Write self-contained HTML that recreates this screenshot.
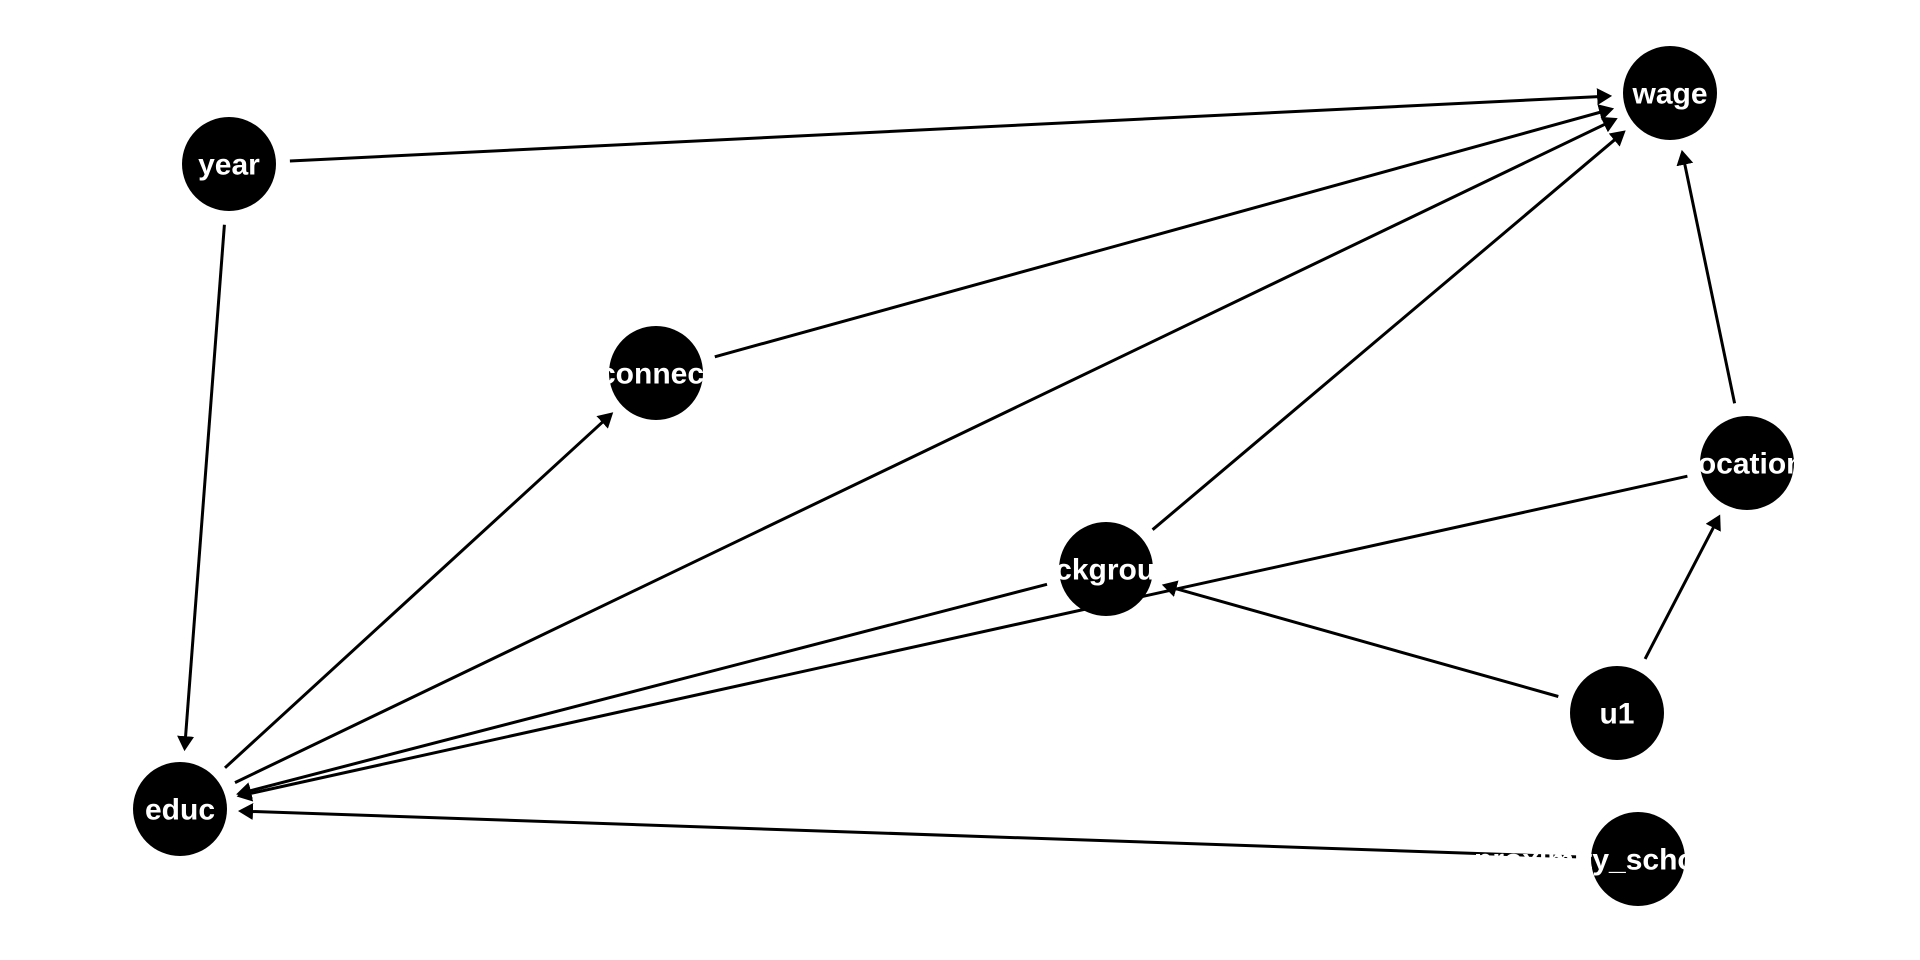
<!DOCTYPE html>
<html>
<head>
<meta charset="utf-8">
<style>
  html, body { margin: 0; padding: 0; background: #ffffff; }
  svg { display: block; }
  text { font-family: "Liberation Sans", Arial, sans-serif; font-weight: bold; font-size: 30px; fill: #ffffff; }
</style>
</head>
<body>
<svg width="1920" height="960" viewBox="0 0 1920 960" xmlns="http://www.w3.org/2000/svg">
  <defs>
    <marker id="ah" markerWidth="17" markerHeight="19" refX="9" refY="8.5" orient="auto" markerUnits="userSpaceOnUse">
      <path d="M0,0 L15,8.5 L0,17 Z" fill="#000"/>
    </marker>
  </defs>
  <rect width="1920" height="960" fill="#fff"/>
  <g stroke="#000" stroke-width="3" fill="none" marker-end="url(#ah)">
    <line x1="289.9" y1="161.0" x2="1606.1" y2="96.2"/>
    <line x1="714.8" y1="356.8" x2="1608.3" y2="110.0"/>
    <line x1="235.0" y1="782.6" x2="1612.3" y2="120.7"/>
    <line x1="1152.6" y1="529.7" x2="1621.1" y2="134.3"/>
    <line x1="1734.6" y1="403.3" x2="1683.0" y2="155.7"/>
    <line x1="224.4" y1="224.8" x2="184.9" y2="745.2"/>
    <line x1="225.0" y1="767.8" x2="608.8" y2="416.3"/>
    <line x1="1047.0" y1="584.3" x2="241.9" y2="792.9"/>
    <line x1="1687.4" y1="476.2" x2="242.5" y2="795.2"/>
    <line x1="1558.3" y1="696.5" x2="1167.6" y2="586.3"/>
    <line x1="1645.1" y1="658.9" x2="1717.4" y2="519.8"/>
    <line x1="1577.0" y1="856.9" x2="244.0" y2="811.2"/>
  </g>
  <g fill="#000">
    <circle cx="1670" cy="93" r="47"/>
    <circle cx="229" cy="164" r="47"/>
    <circle cx="656" cy="373" r="47"/>
    <circle cx="1747" cy="463" r="47"/>
    <circle cx="1106" cy="569" r="47"/>
    <circle cx="1617" cy="713" r="47"/>
    <circle cx="180" cy="809" r="47"/>
    <circle cx="1638" cy="859" r="47"/>
  </g>
  <text x="1670" y="103.5" text-anchor="middle">wage</text>
  <text x="229" y="174.5" text-anchor="middle">year</text>
  <text x="599" y="383.5">connec</text>
  <text x="1747" y="473.5" text-anchor="middle">location</text>
  <text x="1106" y="579.5" text-anchor="middle">background</text>
  <text x="1617" y="723.5" text-anchor="middle">u1</text>
  <text x="180" y="819.5" text-anchor="middle">educ</text>
  <text x="1474" y="869.5">proximity_school</text>
</svg>
</body>
</html>
